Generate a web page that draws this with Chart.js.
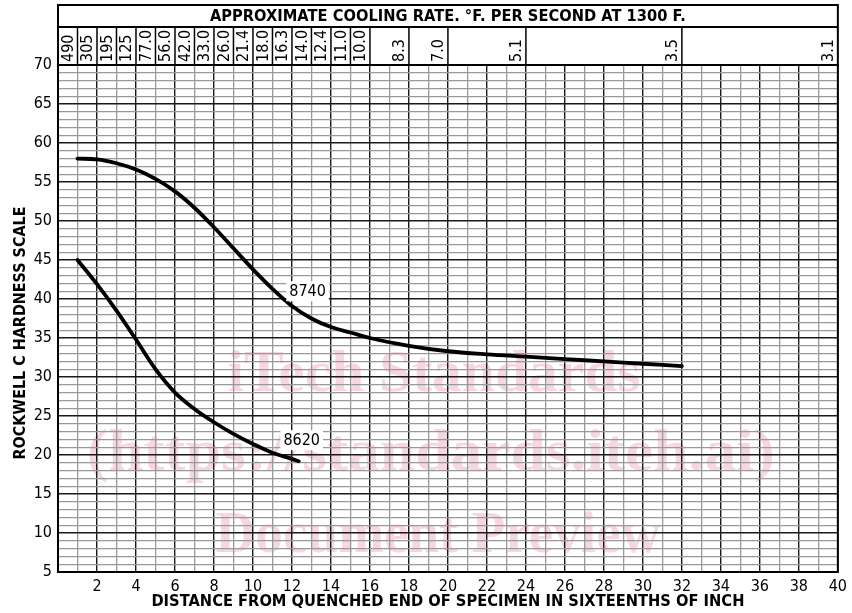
<!DOCTYPE html>
<html>
<head>
<meta charset="utf-8">
<script src="https://cdn.jsdelivr.net/npm/chart.js@4.4.1/dist/chart.umd.min.js"></script>
<style>
  html, body { margin: 0; padding: 0; background: #fff; }
  canvas { display: block; }
</style>
</head>
<body>
<canvas id="jominyChart" width="852" height="613"></canvas>
<script>
// Data
const distance8740 = [1, 2, 3, 4, 5, 6, 7, 8, 9, 10, 11, 12, 13, 14, 15, 16, 18, 20, 22, 24, 26, 28, 30, 32];
const hardness8740 = [58.0, 57.9, 57.4, 56.6, 55.4, 53.8, 51.7, 49.2, 46.5, 43.8, 41.3, 39.1, 37.5, 36.4, 35.7, 35.0, 34.0, 33.3, 32.9, 32.6, 32.3, 32.0, 31.7, 31.4];

const distance8620 = [1, 2, 3, 4, 5, 6, 7, 8, 9, 10, 11, 12, 12.35];
const hardness8620 = [45.0, 41.9, 38.5, 34.8, 31.0, 28.0, 25.9, 24.2, 22.7, 21.4, 20.3, 19.5, 19.2];

// Cooling rate header: label and the distance where its cell ends
const coolingRates = ['490', '305', '195', '125', '77.0', '56.0', '42.0', '33.0', '26.0', '21.4', '18.0', '16.3',
                      '14.0', '12.4', '11.0', '10.0', '8.3', '7.0', '5.1', '3.5', '3.1'];
const coolingRateEnds = [1, 2, 3, 4, 5, 6, 7, 8, 9, 10, 11, 12, 13, 14, 15, 16, 18, 20, 24, 32, 40];

const curveLabels = ['8740', '8620'];
const curveLabelAt = [[12.8, 41.0], [12.5, 21.9]];

const headerTitle = 'APPROXIMATE COOLING RATE. °F. PER SECOND AT 1300 F.';
const xTitle = 'DISTANCE FROM QUENCHED END OF SPECIMEN IN SIXTEENTHS OF INCH';
const yTitle = 'ROCKWELL C HARDNESS SCALE';
const watermark = ['iTech Standards', '(https://standards.iteh.ai)', 'Document Preview'];

const SANS = '"DejaVu Sans Condensed", "DejaVu Sans", sans-serif';
const SANS_BOLD = '"DejaVu Sans", sans-serif';

const toPoints = (xs, ys) => xs.map((x, i) => ({ x: x, y: ys[i] }));

// Draws centred text squeezed or stretched to a given width
function fillFitted(ctx, text, x, y, width, angle) {
	const w = ctx.measureText(text).width;
	ctx.save();
	ctx.translate(x, y);
	if (angle) ctx.rotate(angle);
	ctx.scale(width / w, 1);
	ctx.textAlign = 'center';
	ctx.fillText(text, 0, 0);
	ctx.restore();
}

// Pink watermark behind the grid
const watermarkPlugin = {
	id: 'watermark',
	beforeDraw(chart) {
		const ctx = chart.ctx;
		ctx.save();
		ctx.fillStyle = 'rgba(225, 110, 140, 0.28)';
		ctx.font = 'bold 59px "Liberation Serif", "DejaVu Serif", serif';
		ctx.textBaseline = 'alphabetic';
		fillFitted(ctx, watermark[0], 434, 391, 413);
		fillFitted(ctx, watermark[1], 431, 470, 688);
		fillFitted(ctx, watermark[2], 438, 552, 445);
		ctx.restore();
	}
};

// Curve names on white boxes
const curveLabelPlugin = {
	id: 'curveLabels',
	afterDatasetsDraw(chart) {
		const { ctx, scales: { x, y } } = chart;
		ctx.save();
		ctx.font = '16px ' + SANS;
		ctx.textAlign = 'center';
		ctx.textBaseline = 'middle';
		curveLabels.forEach((txt, i) => {
			const px = x.getPixelForValue(curveLabelAt[i][0]);
			const py = y.getPixelForValue(curveLabelAt[i][1]);
			const w = ctx.measureText(txt).width + 6;
			ctx.fillStyle = '#fff';
			ctx.fillRect(px - w / 2, py - 10, w, 20);
			ctx.fillStyle = '#000';
			ctx.fillText(txt, px, py + 1);
		});
		ctx.restore();
	}
};

// Cooling rate header, frame and axis titles
const headerPlugin = {
	id: 'coolingHeader',
	afterDraw(chart) {
		const { ctx, chartArea: area, scales: { x } } = chart;
		const top = 5, split = 27;
		ctx.save();
		ctx.strokeStyle = '#000';
		ctx.fillStyle = '#000';

		ctx.lineWidth = 2;
		ctx.strokeRect(area.left, top, area.right - area.left, area.top - top);
		ctx.beginPath();
		ctx.moveTo(area.left, split);
		ctx.lineTo(area.right, split);
		ctx.stroke();

		ctx.font = 'bold 15px ' + SANS_BOLD;
		ctx.textBaseline = 'middle';
		fillFitted(ctx, headerTitle, (area.left + area.right) / 2, (top + split) / 2 + 1, 476);

		const unit = x.getPixelForValue(1) - x.getPixelForValue(0);
		ctx.font = '16px ' + SANS;
		coolingRateEnds.forEach((end, i) => {
			const px = x.getPixelForValue(end);
			if (end < x.max) {
				ctx.lineWidth = 1.5;
				ctx.beginPath();
				ctx.moveTo(px, split);
				ctx.lineTo(px, area.top);
				ctx.stroke();
			}
			ctx.save();
			ctx.translate(px - 0.45 * unit, area.top - 3);
			ctx.rotate(-Math.PI / 2);
			ctx.textAlign = 'left';
			ctx.fillText(coolingRates[i], 0, 0);
			ctx.restore();
		});

		ctx.lineWidth = 2;
		ctx.strokeRect(area.left, area.top, area.right - area.left, area.bottom - area.top);

		// axis titles
		ctx.font = 'bold 15px ' + SANS_BOLD;
		fillFitted(ctx, xTitle, (area.left + area.right) / 2, 602, 593);
		fillFitted(ctx, yTitle, 21, 333, 253, -Math.PI / 2);

		ctx.restore();
	}
};

const lineStyle = {
	borderColor: '#000',
	borderWidth: 3.8,
	borderCapStyle: 'round',
	cubicInterpolationMode: 'monotone',
	pointRadius: 0,
	fill: false,
};

const ctx = document.getElementById('jominyChart');
const chart = new Chart(ctx, {
	type: 'line',
	data: {
		datasets: [
			{ label: '8740', data: toPoints(distance8740, hardness8740), ...lineStyle },
			{ label: '8620', data: toPoints(distance8620, hardness8620), ...lineStyle }
		]
	},
	options: {
		responsive: false,
		animation: false,
		layout: { padding: { top: 65, right: 10, left: 0, bottom: 0 } },
		plugins: {
			legend: { display: false },
			tooltip: { enabled: false },
		},
		scales: {
			x: {
				type: 'linear',
				min: 0,
				max: 40,
				afterFit: scale => { scale.height = 41; },
				ticks: {
					stepSize: 1,
					autoSkip: false,
					maxRotation: 0,
					padding: 5,
					color: '#000',
					font: { family: SANS, size: 16 },
					callback: v => (v > 0 && v % 2 === 0) ? String(v) : '',
				},
				grid: {
					drawTicks: false,
					color: c => (c.tick && c.tick.value % 2 === 0) ? '#1a1a1a' : '#999',
					lineWidth: c => (c.tick && c.tick.value % 2 === 0) ? 1.4 : 1.3,
				},
				border: { display: false },
			},
			y: {
				type: 'linear',
				min: 5,
				max: 70,
				afterFit: scale => { scale.width = 58; },
				ticks: {
					stepSize: 1,
					autoSkip: false,
					padding: 6,
					color: '#000',
					font: { family: SANS, size: 16 },
					callback: v => (v % 5 === 0) ? String(v) : '',
				},
				grid: {
					drawTicks: false,
					color: c => (c.tick && c.tick.value % 5 === 0) ? '#1a1a1a' : '#999',
					lineWidth: c => (c.tick && c.tick.value % 5 === 0) ? 1.6 : 1.3,
				},
				border: { display: false },
			}
		}
	},
	plugins: [watermarkPlugin, curveLabelPlugin, headerPlugin]
});
</script>
</body>
</html>
